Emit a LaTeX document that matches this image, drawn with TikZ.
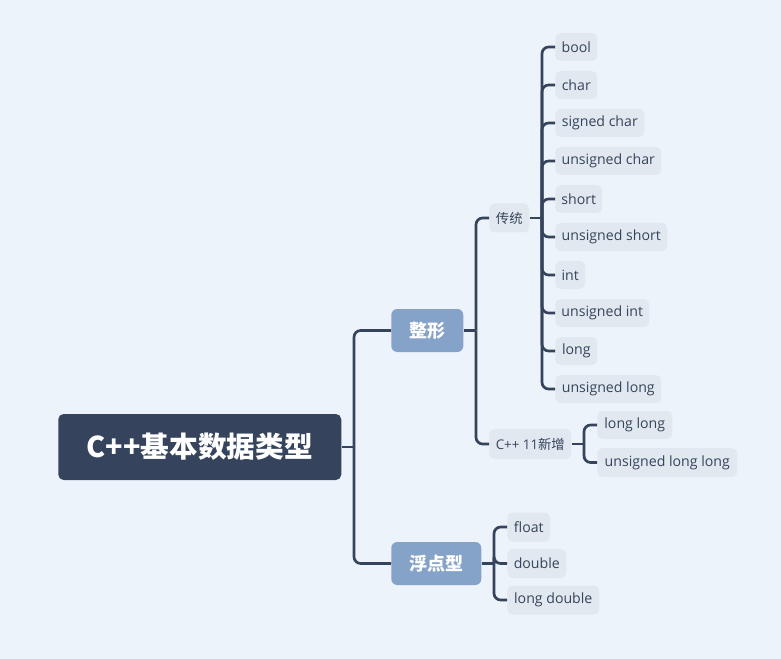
\documentclass[tikz,border=0pt]{standalone}
\usepackage{fontspec}
\setmainfont{Open Sans}
\newfontfamily\cjk{Noto Sans CJK SC}
\usetikzlibrary{calc}
\definecolor{bgc}{RGB}{236,243,251}
\definecolor{dk}{RGB}{53,68,92}
\definecolor{midc}{RGB}{133,163,201}
\definecolor{leafc}{RGB}{226,232,240}
\begin{document}
\begin{tikzpicture}[x=0.75pt,y=-0.75pt,
  w/.style={minimum width=#1*0.75pt},
  h/.style={minimum height=#1*0.75pt},
  rootbox/.style={fill=dk,text=white,rounded corners=4pt,anchor=west,inner sep=0pt,
    font=\cjk\bfseries\fontsize{21.5}{25}\selectfont},
  lvone/.style={fill=midc,text=white,rounded corners=4.5pt,anchor=west,inner sep=0pt,h=43,
    font=\cjk\bfseries\fontsize{13.5}{16}\selectfont},
  lvtwo/.style={fill=leafc,text=dk,rounded corners=4pt,anchor=west,inner sep=0pt,h=29,
    font=\fontsize{10}{12}\selectfont},
  leaf/.style={fill=leafc,text=dk,rounded corners=4pt,anchor=west,inner sep=0pt,h=28,
    font=\fontsize{10.6}{12.5}\selectfont},
  conn/.style={draw=dk,line width=2pt,rounded corners=5pt}]
\path[use as bounding box,fill=bgc] (0,0) rectangle (781,659);

\node[rootbox,w=283,h=66] (r) at (58,447) {C++基本数据类型};

\node[lvone,w=72] (zx) at (391,330.5) {整形};
\node[lvone,w=90] (fd) at (391,563.5) {浮点型};

\node[lvtwo,w=40,font=\cjk\fontsize{10}{12}\selectfont] (ct) at (489,218) {传统};
\node[lvtwo,w=82,h=30] (xz) at (489,444) {C++ 11{\cjk 新增}};

\node[leaf,w=42] (l1) at (555,47) {bool};
\node[leaf,w=42] (l2) at (555,85) {char};
\node[leaf,w=89] (l3) at (555,123) {signed char};
\node[leaf,w=106] (l4) at (555,161) {unsigned char};
\node[leaf,w=47] (l5) at (555,199) {short};
\node[leaf,w=112] (l6) at (555,237) {unsigned short};
\node[leaf,w=30] (l7) at (555,275) {int};
\node[leaf,w=94] (l8) at (555,313) {unsigned int};
\node[leaf,w=42] (l9) at (555,351) {long};
\node[leaf,w=106] (l10) at (555,389) {unsigned long};

\node[leaf,w=75] (ll1) at (597,425) {long long};
\node[leaf,w=140,h=29] (ll2) at (597,462.5) {unsigned long long};

\node[leaf,w=43,h=29] (f1) at (507,527) {float};
\node[leaf,w=59,h=29] (f2) at (507,563.5) {double};
\node[leaf,w=92,h=29] (f3) at (507,600) {long double};

\coordinate (j0) at (354,447);
\coordinate (j1) at (476,330.5);
\coordinate (j2) at (542,218);
\coordinate (j3) at (584,444);
\coordinate (j4) at (494,563.5);

\draw[conn] (r.east) -- (j0);
\foreach \c in {zx,fd} \draw[conn] (j0) |- (\c.west);
\draw[conn] (zx.east) -- (j1);
\foreach \c in {ct,xz} \draw[conn] (j1) |- (\c.west);
\draw[conn] (ct.east) -- (j2);
\foreach \c in {l1,l2,l3,l4,l5,l6,l7,l8,l9,l10} \draw[conn] (j2) |- (\c.west);
\draw[conn] (xz.east) -- (j3);
\foreach \c in {ll1,ll2} \draw[conn] (j3) |- (\c.west);
\draw[conn] (fd.east) -- (j4);
\foreach \c in {f1,f2,f3} \draw[conn] (j4) |- (\c.west);
\end{tikzpicture}
\end{document}
